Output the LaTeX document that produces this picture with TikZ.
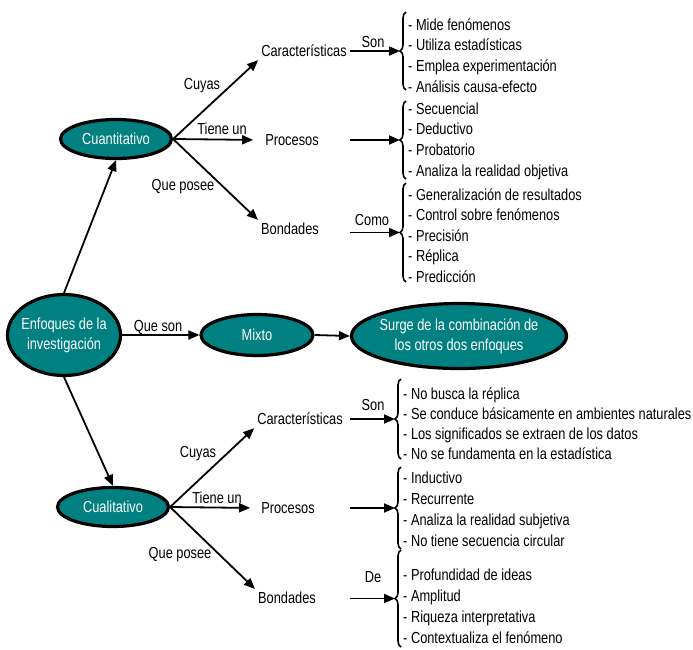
\documentclass[tikz,border=0pt]{standalone}
\usepackage{fontspec}
\newfontfamily\narrowsans[FakeStretch=0.8]{Liberation Sans}
\usetikzlibrary{arrows.meta,decorations.pathreplacing,shapes.geometric}
\definecolor{tealfill}{RGB}{0,128,128}
\begin{document}
\begin{tikzpicture}[x=1pt,y=-1pt,
  txt/.style={font=\narrowsans\fontsize{16}{20}\selectfont, inner sep=3pt},
  oval/.style={ellipse, draw=black, line width=3.2pt, fill=tealfill, text=white,
    inner ysep=0pt, inner xsep=-12pt, align=center,
    font=\narrowsans\fontsize{16}{20}\selectfont},
  arr/.style={line width=1.8pt, -{Triangle[length=11pt,width=9pt]}},
  curly/.style={decorate, decoration={brace, amplitude=6pt, aspect=0.5}, line width=1.6pt},
  item/.style={txt, anchor=base west, inner sep=0pt}]
\useasboundingbox (0,0) rectangle (693,649);
\fill[white] (0,0) rectangle (693,649);

% main ovals
\node[oval, minimum width=113pt, minimum height=81pt] (enf) at (64,335) {Enfoques de la\\investigación};
\node[oval, minimum width=111pt, minimum height=39pt] (cuan) at (116,139) {Cuantitativo};
\node[oval, minimum width=111pt, minimum height=39pt] (cual) at (113,507) {Cualitativo};
\node[oval, minimum width=112pt, minimum height=41pt] (mixto) at (257,335) {Mixto};
\node[oval, minimum width=215pt, minimum height=65pt] (surge) at (459,336) {Surge de la combinación de\\los otros dos enfoques};

\draw[arr] (enf.north) -- (cuan.south);
\draw[arr] (enf.south) -- (cual.north);
\draw[arr] (enf.east) -- (mixto.west);
\draw[arr] (mixto.east) -- (surge.west);
\node[txt] (lqs) at (158,327) {Que son};

% second level headings
\node[txt] (car1) at (304,51) {Características};
\node[txt] (pro1) at (292,140) {Procesos};
\node[txt] (bon1) at (290,229) {Bondades};
\node[txt] (car2) at (300,419) {Características};
\node[txt] (pro2) at (288,508) {Procesos};
\node[txt] (bon2) at (287,598) {Bondades};

\draw[arr] (cuan.east) -- (car1.south west);
\draw[arr, shorten >=9pt] (cuan.east) -- (pro1.west);
\draw[arr] (cuan.east) -- (bon1.north west);
\draw[arr] (cual.east) -- (car2.south west);
\draw[arr, shorten >=8pt] (cual.east) -- (pro2.west);
\draw[arr] (cual.east) -- (bon2.north west);

\node[txt] (lc1) at (202,86) {Cuyas};
\node[txt] (lt1) at (222,129) {Tiene un};
\node[txt] (lq1) at (183,187) {Que posee};
\node[txt] (lc2) at (198,454) {Cuyas};
\node[txt] (lt2) at (217,498) {Tiene un};
\node[txt] (lq2) at (180,555) {Que posee};

% braces and their tips
\draw[curly] (406,90) -- (406,12);
\draw[curly] (406,179) -- (406,101);
\draw[curly] (406,282) -- (406,183);
\draw[curly] (401,459) -- (401,379);
\draw[curly] (401,549) -- (401,467);
\draw[curly] (401,647) -- (401,550);
\coordinate (tA) at (400,51);
\coordinate (tB) at (400,140);
\coordinate (tC) at (400,232.5);
\coordinate (tD) at (395,419);
\coordinate (tE) at (395,508);
\coordinate (tF) at (395,598.5);
\coordinate (sA) at (350,51);
\coordinate (sB) at (350,140);
\coordinate (sC) at (350,232.5);
\coordinate (sD) at (350,419);
\coordinate (sE) at (350,508);
\coordinate (sF) at (350,598.5);
\draw[arr] (sA) -- (tA);
\draw[arr] (sB) -- (tB);
\draw[arr] (sC) -- (tC);
\draw[arr] (sD) -- (tD);
\draw[arr] (sE) -- (tE);
\draw[arr] (sF) -- (tF);
\node[txt] (lsA) at (373,42) {Son};
\node[txt] (lsC) at (372,220) {Como};
\node[txt] (lsD) at (373,405) {Son};
\node[txt] (lsF) at (373,577) {De};

% item lists
\foreach \t [count=\i] in {- Mide fenómenos, - Utiliza estadísticas, - Emplea experimentación, - Análisis causa-efecto}
  \node[item] (ia-\i) at (408,{30+20.7*(\i-1)}) {\t};
\foreach \t [count=\i] in {- Secuencial, - Deductivo, - Probatorio, - Analiza la realidad objetiva}
  \node[item] (ib-\i) at (408,{114+20.7*(\i-1)}) {\t};
\foreach \t [count=\i] in {- Generalización de resultados, - Control sobre fenómenos, - Precisión, - Réplica, - Predicción}
  \node[item] (ic-\i) at (408,{200+20.5*(\i-1)}) {\t};
\foreach \t [count=\i] in {- No busca la réplica, - Se conduce básicamente en ambientes naturales, - Los significados se extraen de los datos, - No se fundamenta en la estadística}
  \node[item] (id-\i) at (403,{399+20.3*(\i-1)}) {\t};
\foreach \t [count=\i] in {- Inductivo, - Recurrente, - Analiza la realidad subjetiva, - No tiene secuencia circular}
  \node[item] (ie-\i) at (403,{483+21*(\i-1)}) {\t};
\foreach \t [count=\i] in {- Profundidad de ideas, - Amplitud, - Riqueza interpretativa, - Contextualiza el fenómeno}
  \node[item] (if-\i) at (403,{580+21*(\i-1)}) {\t};
\end{tikzpicture}
\end{document}
